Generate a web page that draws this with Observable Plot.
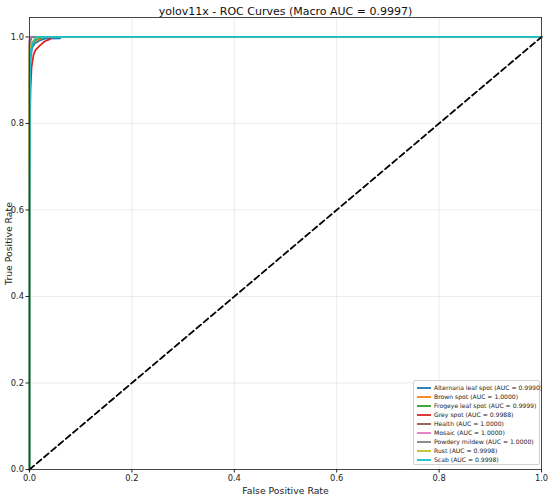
<!DOCTYPE html>
<html>
<head>
<meta charset="utf-8">
<script src="https://cdn.jsdelivr.net/npm/d3@7"></script>
<script src="https://cdn.jsdelivr.net/npm/@observablehq/plot@0.6"></script>
<style>
  html, body { margin: 0; padding: 0; background: #fff; }
  #wrap { position: relative; width: 550px; height: 496px; font-family: "DejaVu Sans", sans-serif; }
  #legend { position: absolute; left: 413px; top: 380px; width: 127px; height: 85px; border: 1px solid #d0d0d0; border-radius: 2px; background: rgba(255,255,255,0.8); box-sizing: border-box; padding-top: 2px; }
  .row { display: flex; align-items: center; height: 9px; font-size: 6.1px; color: #222; white-space: nowrap; }
  .row svg { flex: 0 0 14px; margin: 0 3px 0 3px; }
</style>
</head>
<body>
<div id="wrap"></div>
<script>
const titleText = "yolov11x - ROC Curves (Macro AUC = 0.9997)";
const classes = ["Alternaria leaf spot", "Brown spot", "Frogeye leaf spot", "Grey spot", "Health", "Mosaic", "Powdery mildew", "Rust", "Scab"];
const aucs = [0.9990, 1.0000, 0.9999, 0.9988, 1.0000, 1.0000, 1.0000, 0.9998, 0.9998];
const colors = ["#1f77b4", "#ff7f0e", "#2ca02c", "#d62728", "#8c564b", "#e377c2", "#7f7f7f", "#bcbd22", "#17becf"];
const xTicks = [0, 0.2, 0.4, 0.6, 0.8, 1.0];
const yTicks = [0, 0.2, 0.4, 0.6, 0.8, 1.0];

// ROC points per class (fpr, tpr)
const fprAlternaria = [0, 0, 0.002, 0.005, 0.01, 0.02, 0.03, 0.06, 0.06, 1];
const tprAlternaria = [0, 0.90, 0.95, 0.975, 0.985, 0.992, 0.996, 0.997, 1.0, 1];
const fprBrown = [0, 0, 0.003, 0.01, 0.02, 0.025, 1];
const tprBrown = [0, 0.96, 0.98, 0.99, 0.995, 1.0, 1];
const fprFrogeye = [0, 0, 0.003, 0.008, 0.015, 0.03, 1];
const tprFrogeye = [0, 0.95, 0.975, 0.99, 0.996, 1.0, 1];
const fprGrey = [0, 0, 0.002, 0.004, 0.008, 0.012, 0.02, 0.03, 0.04, 0.045, 1];
const tprGrey = [0, 0.75, 0.88, 0.93, 0.96, 0.97, 0.98, 0.99, 0.995, 1.0, 1];
const fprHealth = [0, 0, 0.005, 1];
const tprHealth = [0, 0.99, 1.0, 1];
const fprMosaic = [0, 0, 0.002, 1];
const tprMosaic = [0, 0.995, 1.0, 1];
const fprPowdery = [0, 0, 0.004, 1];
const tprPowdery = [0, 0.98, 1.0, 1];
const fprRust = [0, 0, 0.004, 0.01, 0.02, 1];
const tprRust = [0, 0.97, 0.985, 0.995, 1.0, 1];
const fprScab = [0, 0, 0.001, 0.003, 0.006, 0.01, 0.015, 1];
const tprScab = [0, 0.5, 0.92, 0.97, 0.985, 0.993, 1.0, 1];

const fprs = [fprAlternaria, fprBrown, fprFrogeye, fprGrey, fprHealth, fprMosaic, fprPowdery, fprRust, fprScab];
const tprs = [tprAlternaria, tprBrown, tprFrogeye, tprGrey, tprHealth, tprMosaic, tprPowdery, tprRust, tprScab];

const rows = [];
classes.forEach((c, i) => {
  fprs[i].forEach((f, j) => rows.push({cls: c, fpr: f, tpr: tprs[i][j]}));
});
const diag = [{x: 0, y: 0}, {x: 1, y: 1}];

const plot = Plot.plot({
  width: 550,
  height: 496,
  marginLeft: 29,
  marginRight: 9,
  marginTop: 17,
  marginBottom: 27,
  style: {fontFamily: "DejaVu Sans, sans-serif", fontSize: "8.3px", color: "#222", background: "#fff", overflow: "visible"},
  x: {domain: [0, 1], ticks: xTicks, tickFormat: d => d.toFixed(1), label: null},
  y: {domain: [0, 1.045], ticks: yTicks, tickFormat: d => d.toFixed(1), label: null},
  color: {domain: classes, range: colors},
  marks: [
    Plot.gridX(xTicks, {stroke: "#b0b0b0", strokeOpacity: 0.3, strokeWidth: 0.8}),
    Plot.gridY(yTicks, {stroke: "#b0b0b0", strokeOpacity: 0.3, strokeWidth: 0.8}),
    Plot.line(rows, {x: "fpr", y: "tpr", z: "cls", stroke: "cls", strokeWidth: 1.8, curve: "linear"}),
    Plot.line(diag, {x: "x", y: "y", stroke: "#000", strokeWidth: 1.8, strokeDasharray: "6,3.5"}),
    Plot.frame({stroke: "#333", strokeWidth: 0.9}),
    Plot.axisX(xTicks, {tickSize: 3.5, tickPadding: 2, tickFormat: d => d.toFixed(1), fontSize: 8.3, label: "False Positive Rate", labelAnchor: "center", labelArrow: "none", labelOffset: 24}),
    Plot.axisY(yTicks, {tickSize: 3.5, tickPadding: 2, tickFormat: d => d.toFixed(1), fontSize: 8.3, label: "True Positive Rate", labelAnchor: "center", labelArrow: "none", labelOffset: 24}),
    Plot.text([titleText], {frameAnchor: "top", lineAnchor: "bottom", dy: -3, fontSize: 11, fill: "#111"})
  ]
});
plot.querySelectorAll('[aria-label="x-axis label"] text, [aria-label="y-axis label"] text').forEach(t => t.setAttribute("font-size", "9.3"));
const wrap = document.getElementById("wrap");
wrap.appendChild(plot);

const legend = document.createElement("div");
legend.id = "legend";
classes.forEach((c, i) => {
  const r = document.createElement("div");
  r.className = "row";
  r.innerHTML = `<svg width="14" height="4"><line x1="0" x2="14" y1="2" y2="2" stroke="${colors[i]}" stroke-width="1.8"/></svg>`;
  const tx = document.createElement("span");
  tx.textContent = `${c} (AUC = ${aucs[i].toFixed(4)})`;
  r.appendChild(tx);
  legend.appendChild(r);
});
wrap.appendChild(legend);
</script>
</body>
</html>
